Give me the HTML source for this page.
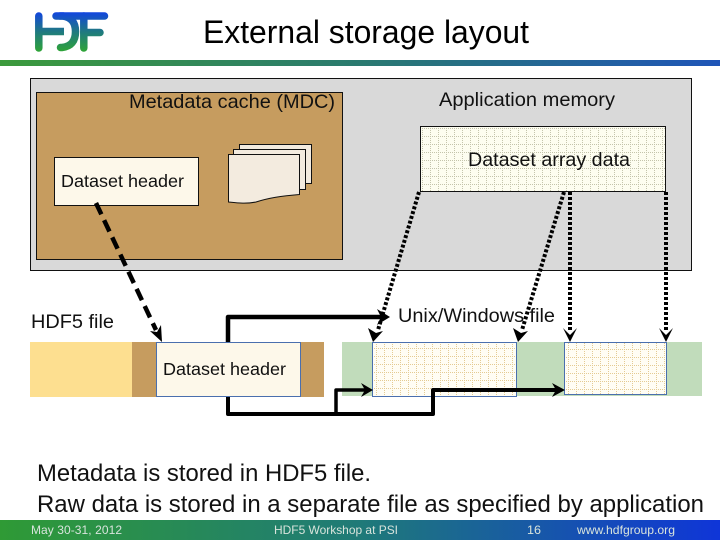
<!DOCTYPE html>
<html>
<head>
<meta charset="utf-8">
<style>
html,body{margin:0;padding:0;background:#fff;}
svg{display:block;font-family:"Liberation Sans",sans-serif;}
</style>
</head>
<body>
<svg width="720" height="540" viewBox="0 0 720 540" xmlns="http://www.w3.org/2000/svg">
<defs>
<linearGradient id="rule" x1="0" x2="1" y1="0" y2="0"><stop offset="0" stop-color="#3c9a3c"/><stop offset="0.5" stop-color="#2a7a70"/><stop offset="1" stop-color="#1f55b8"/></linearGradient>
<linearGradient id="foot" x1="0" x2="1" y1="0" y2="0"><stop offset="0" stop-color="#2f9a35"/><stop offset="0.5" stop-color="#1f7a78"/><stop offset="1" stop-color="#0f35d8"/></linearGradient>
<linearGradient id="logo" gradientUnits="userSpaceOnUse" x1="0" x2="0" y1="12" y2="52"><stop offset="0" stop-color="#1245e0"/><stop offset="0.5" stop-color="#1f7a80"/><stop offset="1" stop-color="#2fa535"/></linearGradient>
<pattern id="g1" width="8" height="8" patternUnits="userSpaceOnUse" x="422" y="128">
<rect width="8" height="8" fill="#fdfdf0"/>
<g fill="#c4c4ac"><rect x="0" y="0" width="1" height="1"/><rect x="2" y="0" width="1" height="1"/><rect x="4" y="0" width="1" height="1"/><rect x="6" y="0" width="1" height="1"/><rect x="0" y="2" width="1" height="1"/><rect x="0" y="4" width="1" height="1"/><rect x="0" y="6" width="1" height="1"/></g>
</pattern>
<pattern id="g2" width="8" height="8" patternUnits="userSpaceOnUse" x="376" y="348">
<rect width="8" height="8" fill="#fffdf4"/>
<g fill="#e4cb94"><rect x="0" y="0" width="1" height="1"/><rect x="2" y="0" width="1" height="1"/><rect x="4" y="0" width="1" height="1"/><rect x="6" y="0" width="1" height="1"/><rect x="0" y="2" width="1" height="1"/><rect x="0" y="4" width="1" height="1"/><rect x="0" y="6" width="1" height="1"/></g>
</pattern>
<pattern id="g3" width="8" height="8" patternUnits="userSpaceOnUse" x="568" y="349">
<rect width="8" height="8" fill="#fffdf4"/>
<g fill="#e4cb94"><rect x="0" y="0" width="1" height="1"/><rect x="2" y="0" width="1" height="1"/><rect x="4" y="0" width="1" height="1"/><rect x="6" y="0" width="1" height="1"/><rect x="0" y="2" width="1" height="1"/><rect x="0" y="4" width="1" height="1"/><rect x="0" y="6" width="1" height="1"/></g>
</pattern>
</defs>

<!-- logo -->
<g fill="none" stroke="url(#logo)" stroke-width="7.500" stroke-linecap="round">
<path d="M38.800 16V48"/>
<path d="M38.800 31.500H64" stroke-linecap="butt"/>
<path d="M56 16H104.500"/>
<path d="M83.800 16V48"/>
<path d="M83.800 32.500H100"/>
<path d="M60 16H63Q75.500 18 75.500 31.500Q75.500 46 62 47.500H60.500"/>
</g>

<!-- title -->
<text x="203" y="43" font-size="32" textLength="326" lengthAdjust="spacingAndGlyphs">External storage layout</text>
<rect x="0" y="60" width="720" height="6" fill="url(#rule)"/>

<!-- application memory -->
<rect x="30.500" y="78.500" width="661" height="192" fill="#d9d9d9" stroke="#111" stroke-width="1"/>
<rect x="36.500" y="92.500" width="306" height="167" fill="#c69c5f" stroke="#111" stroke-width="1"/>
<text x="129" y="108" font-size="19.500" fill="#111" textLength="206" lengthAdjust="spacingAndGlyphs">Metadata cache (MDC)</text>
<text x="439" y="106" font-size="19.500" fill="#111" textLength="176" lengthAdjust="spacingAndGlyphs">Application memory</text>

<rect x="420.500" y="126.500" width="245" height="65" fill="url(#g1)" stroke="#111" stroke-width="1"/>
<text x="468" y="166" font-size="19.500" fill="#111" textLength="162" lengthAdjust="spacingAndGlyphs">Dataset array data</text>

<rect x="54.500" y="157.500" width="144" height="48" fill="#fdf8ea" stroke="#111" stroke-width="1"/>
<text x="61" y="187" font-size="17.500" fill="#111" textLength="123" lengthAdjust="spacingAndGlyphs">Dataset header</text>

<!-- doc stack -->
<g fill="#f3ebdf" stroke="#111" stroke-width="1">
<rect x="239.500" y="144.500" width="72" height="39"/>
<rect x="233.500" y="149.500" width="72" height="40"/>
<path d="M228.500 154.500H299.500V194.500C280 196 268 198 256 202C246 204 238 203 228.500 202Z"/>
</g>

<!-- file bars -->
<rect x="30" y="342" width="102" height="55" fill="#fddf90"/>
<rect x="132" y="342" width="192" height="55" fill="#c69c5f"/>
<rect x="156.500" y="342.500" width="144" height="54" fill="#fdf8ea" stroke="#4a6fae" stroke-width="1"/>
<text x="163" y="375" font-size="17.500" fill="#111" textLength="123" lengthAdjust="spacingAndGlyphs">Dataset header</text>
<rect x="342" y="342" width="360" height="54" fill="#c1dcbb"/>
<rect x="372.500" y="342.500" width="144" height="54" fill="url(#g2)" stroke="#4a6fae" stroke-width="1"/>
<rect x="564.500" y="342.500" width="102" height="52" fill="url(#g3)" stroke="#4a6fae" stroke-width="1"/>

<text x="31" y="328" font-size="19.500" fill="#111" textLength="83" lengthAdjust="spacingAndGlyphs">HDF5 file</text>
<text x="398" y="322" font-size="19.500" fill="#111" textLength="157" lengthAdjust="spacingAndGlyphs">Unix/Windows file</text>

<!-- solid connectors -->
<g fill="none" stroke="#000" stroke-linejoin="round">
<path d="M228 342V317H384" stroke-width="4.500"/>
<path d="M228 397V414H433V390H556" stroke-width="4"/>
<path d="M336 414V390H366" stroke-width="3.500"/>
</g>
<g fill="#000">
<path d="M377 309L390 317L377 325L381 317Z"/>
<path d="M361 383L373 390L361 397L365 390Z"/>
<path d="M552 383L565 390L552 397L556 390Z"/>
</g>

<!-- dashed metadata connector -->
<path d="M96 203L156 330" fill="none" stroke="#000" stroke-width="4.500" stroke-dasharray="12.500 6.500"/>
<path d="M162 342L150 331L157 332L161 325Z" fill="#000"/>

<!-- dotted raw data connectors -->
<g fill="none" stroke="#000" stroke-width="4" stroke-dasharray="3 2">
<path d="M419 192L378 330"/>
<path d="M564 192L522 330"/>
<path d="M570 192V332"/>
<path d="M666 192V332"/>
</g>
<g fill="#000">
<path d="M373 342L368 328L376 333L383 331Z"/>
<path d="M518 342L513 328L521 333L528 331Z"/>
<path d="M570 342L563 328L570 335L577 328Z"/>
<path d="M666 342L659 328L666 335L673 328Z"/>
</g>

<!-- body text -->
<text x="37" y="481" font-size="24" fill="#111" textLength="334" lengthAdjust="spacingAndGlyphs">Metadata is stored in HDF5 file.</text>
<text x="37" y="512" font-size="24" fill="#111" textLength="667" lengthAdjust="spacingAndGlyphs">Raw data is stored in a separate file as specified by application</text>

<!-- footer -->
<rect x="0" y="520" width="720" height="20" fill="url(#foot)"/>
<g font-size="12" fill="#d8e4dc">
<text x="31" y="534" textLength="91" lengthAdjust="spacing">May 30-31, 2012</text>
<text x="274" y="534" textLength="124" lengthAdjust="spacingAndGlyphs">HDF5 Workshop at PSI</text>
<text x="527" y="534" textLength="14" lengthAdjust="spacingAndGlyphs">16</text>
<text x="577" y="534" textLength="98" lengthAdjust="spacingAndGlyphs">www.hdfgroup.org</text>
</g>
</svg>
</body>
</html>
